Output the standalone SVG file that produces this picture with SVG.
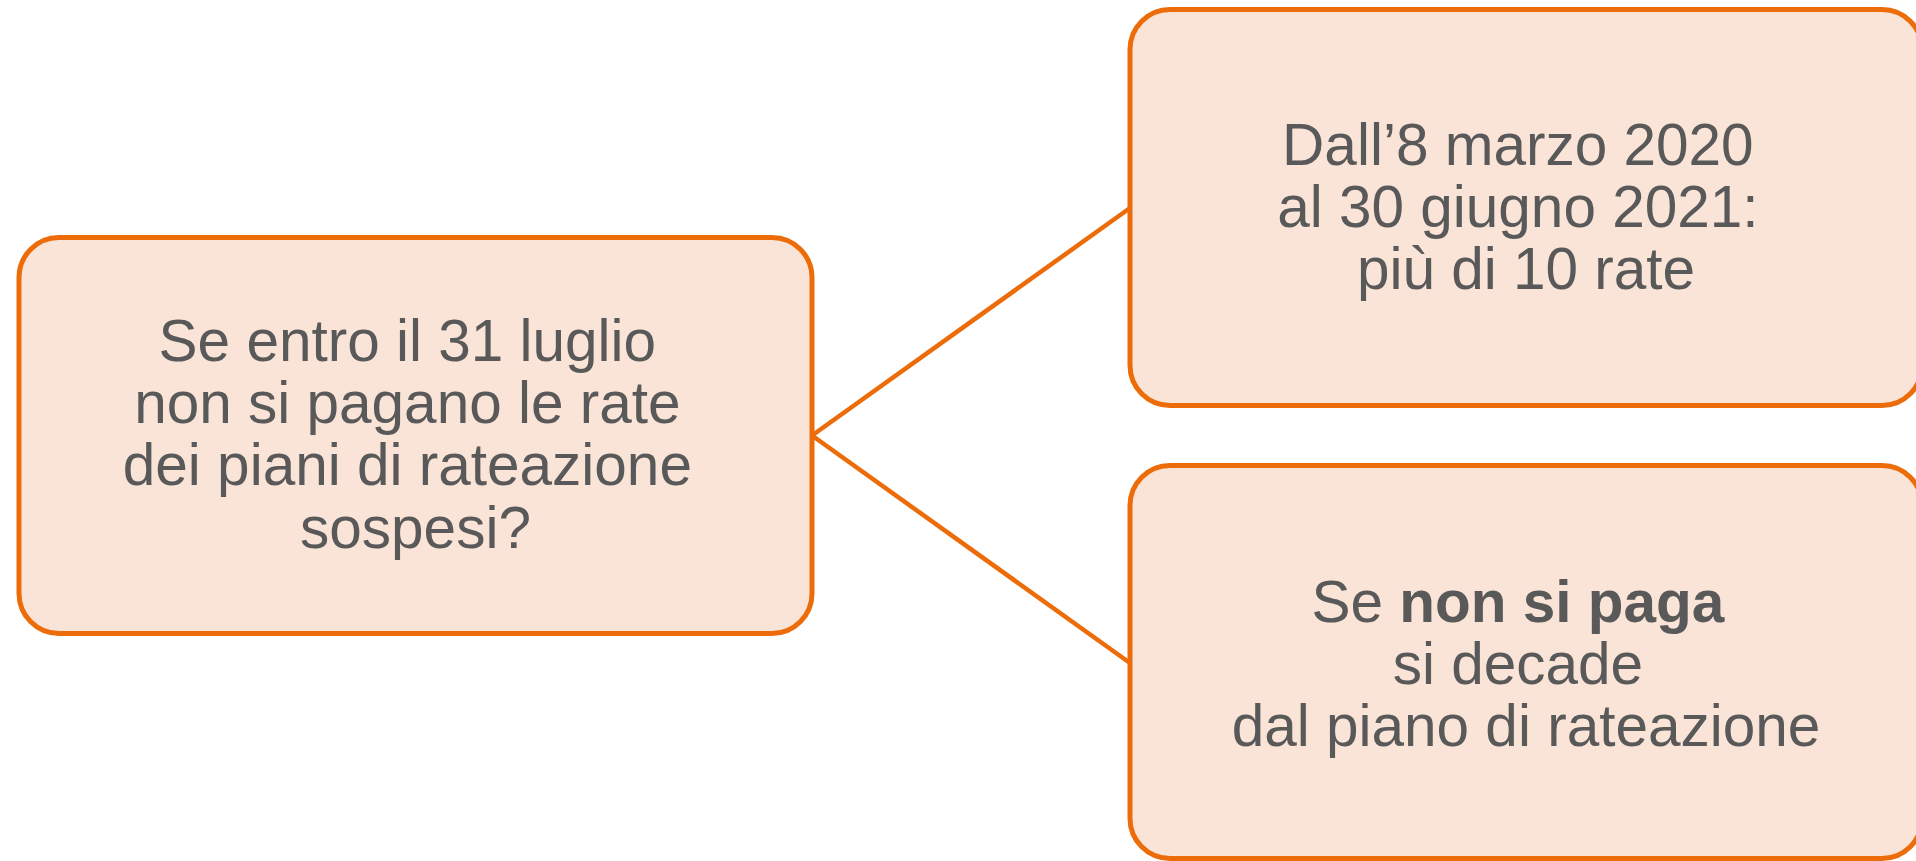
<svg xmlns="http://www.w3.org/2000/svg" width="1916" height="861" viewBox="0 0 1916 861">
  <style>
    .box { fill: #FAE4D7; stroke: #ED6C0A; stroke-width: 5; }
    .link { stroke: #ED6C0A; stroke-width: 4.5; fill: none; }
    .label { font-family: "Liberation Sans", Arial, sans-serif; font-size: 58.5px; fill: #595959; text-anchor: middle; }
    .strong { font-weight: bold; }
  </style>
  <rect width="1916" height="861" fill="#FFFFFF"/>

  <!-- connectors from the question to both outcomes -->
  <g id="connectors">
    <line class="link" x1="812" y1="435.5" x2="1130" y2="208"/>
    <line class="link" x1="812" y1="435.5" x2="1130" y2="663"/>
  </g>

  <!-- question -->
  <g id="node-question">
    <rect class="box" x="19" y="237.5" width="793" height="396" rx="40" ry="40"/>
    <text class="label">
      <tspan x="415.5" y="360.5">Se entro il 31 luglio</tspan>
      <tspan x="415.5" y="422.8">non si pagano le rate</tspan>
      <tspan x="415.5" y="485.2">dei piani di rateazione</tspan>
      <tspan x="415.5" y="547.5">sospesi?</tspan>
    </text>
  </g>

  <!-- outcome: grace period -->
  <g id="node-period">
    <rect class="box" x="1130" y="9.5" width="792" height="396" rx="40" ry="40"/>
    <text class="label">
      <tspan x="1526" y="165">Dall’8 marzo 2020</tspan>
      <tspan x="1526" y="227">al 30 giugno 2021:</tspan>
      <tspan x="1526" y="289">più di 10 rate</tspan>
    </text>
  </g>

  <!-- outcome: loss of the instalment plan -->
  <g id="node-forfeit">
    <rect class="box" x="1130" y="465.5" width="792" height="393" rx="40" ry="40"/>
    <text class="label">
      <tspan x="1526" y="622">Se <tspan class="strong">non si paga</tspan></tspan>
      <tspan x="1526" y="684">si decade</tspan>
      <tspan x="1526" y="745.5">dal piano di rateazione</tspan>
    </text>
  </g>
</svg>
